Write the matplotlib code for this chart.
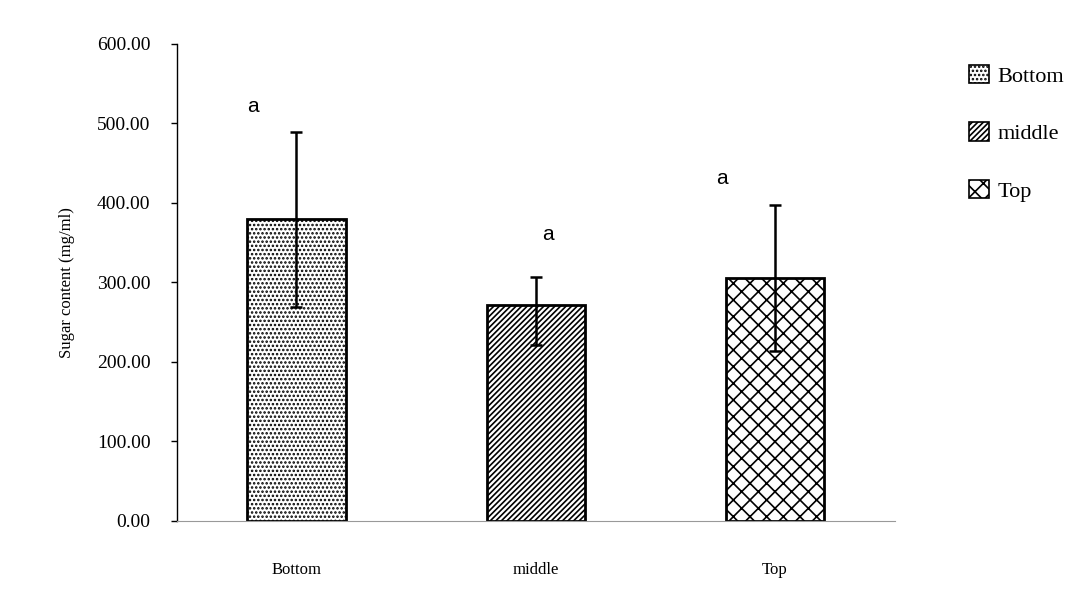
import matplotlib
matplotlib.use("Agg")
from matplotlib import pyplot as plt
from matplotlib.patches import Patch

categories = ["Bottom", "middle", "Top"]
means = [379, 272, 306]
err_low = [110, 51, 93]
err_high = [110, 35, 91]
letters = ["a", "a", "a"]
letter_y = [521, 360, 431]
letter_dx = [-0.18, 0.05, -0.22]
hatches = ["....", "//////", "xx"]

plt.rcParams["font.family"] = ["Liberation Serif", "DejaVu Serif"]
plt.rcParams["hatch.linewidth"] = 1.2

fig = plt.figure(figsize=(10.78, 6), dpi=100)
ax = fig.add_axes([0.164, 0.132, 0.666, 0.795])

x = list(range(len(categories)))
for i in x:
    ax.bar(i, means[i], width=0.41, color="white", edgecolor="black",
           linewidth=2, hatch=hatches[i], zorder=2)
ax.errorbar(x, means, yerr=[err_low, err_high], fmt="none", ecolor="black",
            elinewidth=1.8, capsize=4, capthick=1.8, zorder=3)

for i in x:
    ax.text(i + letter_dx[i], letter_y[i], letters[i], ha="center", va="center",
            fontsize=15, family=["Liberation Sans", "DejaVu Sans"])

ax.set_xlim(-0.5, 2.5)
ax.set_ylim(0, 600)
ax.set_yticks(range(0, 601, 100))
ax.set_yticklabels([f"{v:.2f}" for v in range(0, 601, 100)], fontsize=14)
ax.set_xticks(x)
ax.set_xticklabels(categories, fontsize=12)
ax.tick_params(axis="x", length=0, pad=30)
ax.tick_params(axis="y", direction="out", length=4, width=1, pad=15)
ax.set_ylabel("Sugar content (mg/ml)", fontsize=12, labelpad=16)

for s in ["top", "right"]:
    ax.spines[s].set_visible(False)
ax.spines["bottom"].set_color("#999999")
ax.spines["bottom"].set_linestyle((0, (1, 1)))
ax.spines["left"].set_linewidth(1)

handles = [Patch(facecolor="white", edgecolor="black", hatch=h, linewidth=1.2)
           for h in hatches]
fig.legend(handles, categories, loc="upper left", bbox_to_anchor=(0.88, 0.925),
           frameon=False, fontsize=16, handlelength=0.9, handleheight=0.9,
           handletextpad=0.4, labelspacing=1.6)

fig.savefig("out.png", dpi=100)
